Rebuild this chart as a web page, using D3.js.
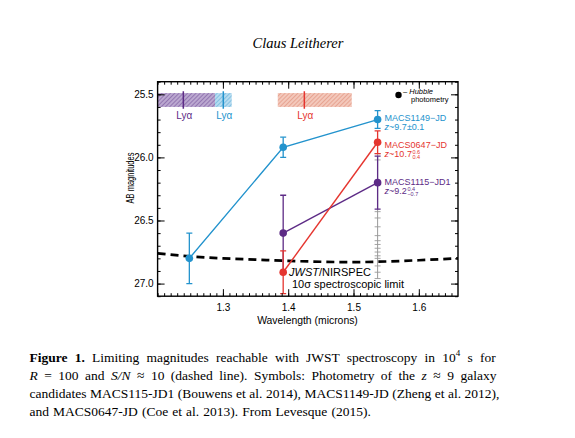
<!DOCTYPE html>
<html>
<head>
<meta charset="utf-8">
<script src="https://cdn.jsdelivr.net/npm/d3@7"></script>
<style>
body { margin: 0; background: #fff; }
svg { display: block; }
</style>
</head>
<body>
<svg width="575" height="438"></svg>
<script>
// Photometry of the three z~9-11 candidates (wavelength in microns, AB mag)
const jd1149Wave = [1.2486, 1.3923, 1.5369];
const jd1149Mag = [26.80, 25.92, 25.70];
const jd1149Err = [0.20, 0.08, 0.07];

const jd0647Wave = [1.3923, 1.5369];
const jd0647Mag = [26.91, 25.88];
const jd0647Err = [0.17, 0.09];

const jd1115Wave = [1.3923, 1.5369];
const jd1115Mag = [26.60, 26.20];
const jd1115Err = [0.30, 0.21];

// Grey error bar caps stacked at 1.537 micron
const greyWave = 1.5369;
const greyCaps = [25.97, 26.02, 26.43, 26.48, 26.55, 26.62, 26.66, 26.69, 26.72, 26.75, 26.78, 26.80, 26.86, 26.91, 26.96];

// JWST/NIRSPEC 10 sigma limit (dashed line)
const limitWave = [1.20, 1.25, 1.30, 1.35, 1.40, 1.45, 1.50, 1.55, 1.60, 1.66];
const limitMag = [26.76, 26.785, 26.80, 26.81, 26.82, 26.827, 26.83, 26.825, 26.815, 26.80];

// Lyman alpha positions and redshift ranges (purple, blue, red)
const lyaWave = [1.2394, 1.3006, 1.4247];
const lyaLow = [1.19, 1.2872, 1.384];
const lyaHigh = [1.2879, 1.3135, 1.4973];

const xTicks = [1.3, 1.4, 1.5, 1.6];
const yTicks = [25.5, 26.0, 26.5, 27.0];

const blue = "#2393cd";
const red = "#e5352f";
const purple = "#5d2b86";

const svg = d3.select("svg");
const sans = "Liberation Sans, Arial, sans-serif";
const serif = "Liberation Serif, serif";

// Frame of the plot
const pLeft = 157.6, pRight = 458, pTop = 81.7, pBottom = 296.2;

const xScale = d3.scaleLinear().domain([1.2, 1.66]).range([pLeft, pRight]);
const yScale = d3.scaleLinear().domain([25.4, 27.1]).range([pTop, pBottom]);

// Hatch patterns for the redshift bands
const defs = svg.append("defs");
function hatch(id, bg, fg) {
    const p = defs.append("pattern")
        .attr("id", id)
        .attr("patternUnits", "userSpaceOnUse")
        .attr("width", 3).attr("height", 3)
        .attr("patternTransform", "rotate(45)");
    p.append("rect").attr("width", 3).attr("height", 3).attr("fill", bg);
    p.append("line").attr("x1", 0).attr("y1", 0).attr("x2", 0).attr("y2", 3)
        .attr("stroke", fg).attr("stroke-width", 1.4);
}
hatch("hPurple", "#bba8d0", "#8060a4");
hatch("hBlue", "#b6dcf0", "#6db4dc");
hatch("hRed", "#f3c8bb", "#e29481");

defs.append("clipPath").attr("id", "plotClip")
    .append("rect").attr("x", pLeft).attr("y", pTop)
    .attr("width", pRight - pLeft).attr("height", pBottom - pTop);

const plot = svg.append("g").attr("clip-path", "url(#plotClip)");

const bandFills = ["url(#hPurple)", "url(#hBlue)", "url(#hRed)"];
const bandColors = [purple, blue, red];
const bandOrder = [1, 0, 2];

bandOrder.forEach(function(i) {
    plot.append("rect")
        .attr("x", xScale(lyaLow[i]))
        .attr("y", yScale(25.49))
        .attr("width", xScale(lyaHigh[i]) - xScale(lyaLow[i]))
        .attr("height", yScale(25.6) - yScale(25.49))
        .attr("fill", bandFills[i]);
});
lyaWave.forEach(function(w, i) {
    plot.append("line")
        .attr("x1", xScale(w)).attr("x2", xScale(w))
        .attr("y1", yScale(25.475)).attr("y2", yScale(25.615))
        .attr("stroke", bandColors[i]).attr("stroke-width", 1.5);
    svg.append("text")
        .attr("x", xScale(w) + 1)
        .attr("y", 118.5)
        .attr("text-anchor", "middle")
        .attr("font-family", sans)
        .attr("font-size", 10)
        .attr("fill", bandColors[i])
        .text("Lyα");
});

// Dashed limit line
plot.append("path")
    .datum(limitWave.map((w, i) => [w, limitMag[i]]))
    .attr("fill", "none")
    .attr("stroke", "#000")
    .attr("stroke-width", 2.7)
    .attr("stroke-dasharray", "8,5")
    .attr("d", d3.line().curve(d3.curveMonotoneX).x(d => xScale(d[0])).y(d => yScale(d[1])));

// Grey error bars
plot.append("line")
    .attr("x1", xScale(greyWave)).attr("x2", xScale(greyWave))
    .attr("y1", yScale(d3.min(greyCaps))).attr("y2", yScale(d3.max(greyCaps)))
    .attr("stroke", "#999").attr("stroke-width", 1);
plot.selectAll(".greycap")
    .data(greyCaps)
    .enter()
    .append("line")
    .attr("x1", xScale(greyWave) - 3).attr("x2", xScale(greyWave) + 3)
    .attr("y1", d => yScale(d)).attr("y2", d => yScale(d))
    .attr("stroke", "#9a9a9a").attr("stroke-width", 0.9);

// Draw one galaxy: error bars, connecting line, points
function drawSeries(wave, mag, err, color) {
    const pts = wave.map((w, i) => ({ w: w, m: mag[i], e: err[i] }));
    const g = plot.append("g");
    pts.forEach(function(d) {
        g.append("line")
            .attr("x1", xScale(d.w)).attr("x2", xScale(d.w))
            .attr("y1", yScale(d.m - d.e)).attr("y2", yScale(d.m + d.e))
            .attr("stroke", color).attr("stroke-width", 1.3);
        [d.m - d.e, d.m + d.e].forEach(function(v) {
            g.append("line")
                .attr("x1", xScale(d.w) - 3).attr("x2", xScale(d.w) + 3)
                .attr("y1", yScale(v)).attr("y2", yScale(v))
                .attr("stroke", color).attr("stroke-width", 1.3);
        });
    });
    g.append("path")
        .datum(pts)
        .attr("fill", "none")
        .attr("stroke", color)
        .attr("stroke-width", 1.4)
        .attr("d", d3.line().x(d => xScale(d.w)).y(d => yScale(d.m)));
    g.selectAll("circle")
        .data(pts)
        .enter()
        .append("circle")
        .attr("cx", d => xScale(d.w))
        .attr("cy", d => yScale(d.m))
        .attr("r", 3.8)
        .attr("fill", color);
}
drawSeries(jd1115Wave, jd1115Mag, jd1115Err, purple);
drawSeries(jd1149Wave, jd1149Mag, jd1149Err, blue);
drawSeries(jd0647Wave, jd0647Mag, jd0647Err, red);

// Axes with inward ticks on all four sides
function styleAxis(g) {
    g.select(".domain").remove();
    g.selectAll("line").attr("stroke", "#000").attr("stroke-width", 1);
    g.selectAll("text")
        .attr("font-family", sans)
        .attr("font-size", 10)
        .attr("fill", "#000");
}
const xMinor = d3.range(120, 166).map(v => v / 100);
const yMinor = d3.range(254, 272).map(v => v / 10);

svg.append("g").attr("transform", `translate(0,${pBottom})`)
    .call(d3.axisBottom(xScale).tickValues(xMinor).tickSize(-3).tickFormat(""))
    .call(styleAxis);
svg.append("g").attr("transform", `translate(0,${pBottom})`)
    .call(d3.axisBottom(xScale).tickValues(xTicks).tickSize(-7).tickPadding(8).tickFormat(d3.format(".1f")))
    .call(styleAxis);
svg.append("g").attr("transform", `translate(0,${pTop})`)
    .call(d3.axisTop(xScale).tickValues(xMinor).tickSize(-3).tickFormat(""))
    .call(styleAxis);
svg.append("g").attr("transform", `translate(0,${pTop})`)
    .call(d3.axisTop(xScale).tickValues(xTicks).tickSize(-7).tickFormat(""))
    .call(styleAxis);

svg.append("g").attr("transform", `translate(${pLeft},0)`)
    .call(d3.axisLeft(yScale).tickValues(yMinor).tickSize(-3).tickFormat(""))
    .call(styleAxis);
svg.append("g").attr("transform", `translate(${pLeft},0)`)
    .call(d3.axisLeft(yScale).tickValues(yTicks).tickSize(-7).tickPadding(4).tickFormat(d3.format(".1f")))
    .call(styleAxis);
svg.append("g").attr("transform", `translate(${pRight},0)`)
    .call(d3.axisRight(yScale).tickValues(yMinor).tickSize(-3).tickFormat(""))
    .call(styleAxis);
svg.append("g").attr("transform", `translate(${pRight},0)`)
    .call(d3.axisRight(yScale).tickValues(yTicks).tickSize(-7).tickFormat(""))
    .call(styleAxis);

// Frame
svg.append("rect")
    .attr("x", pLeft).attr("y", pTop)
    .attr("width", pRight - pLeft).attr("height", pBottom - pTop)
    .attr("fill", "none").attr("stroke", "#000").attr("stroke-width", 1.4);

// Axis labels
svg.append("text")
    .attr("x", 307.5)
    .attr("y", 324)
    .attr("text-anchor", "middle")
    .attr("font-family", sans)
    .attr("font-size", 10.4)
    .text("Wavelength (microns)");

svg.append("text")
    .attr("transform", "translate(133.5,178) rotate(-90) scale(0.75,1)")
    .attr("text-anchor", "middle")
    .attr("font-family", sans)
    .attr("font-size", 10)
    .text("AB magnitudes");

// Galaxy labels
function galaxyLabel(name, zText, sup, sub, yName, color) {
    const x0 = xScale(1.5369) + 7;
    svg.append("text")
        .attr("x", x0).attr("y", yName)
        .attr("font-family", sans).attr("font-size", 9)
        .attr("fill", color).text(name);
    const t = svg.append("text")
        .attr("x", x0).attr("y", yName + 9.5)
        .attr("font-family", sans).attr("font-size", 9)
        .attr("fill", color);
    t.append("tspan").attr("font-style", "italic").text("z");
    t.append("tspan").text(zText);
    if (sup !== null) {
        const w = t.node().getComputedTextLength();
        svg.append("text")
            .attr("x", x0 + w + 0.5).attr("y", yName + 6)
            .attr("font-family", sans).attr("font-size", 5.5)
            .attr("fill", color).text(sup);
        svg.append("text")
            .attr("x", x0 + w + 0.5).attr("y", yName + 11.5)
            .attr("font-family", sans).attr("font-size", 5.5)
            .attr("fill", color).text(sub);
    }
}
galaxyLabel("MACS1149\u2212JD", "~9.7\u00b10.1", null, null, 120.5, blue);
galaxyLabel("MACS0647\u2212JD", "~10.7", "0.6", "0.4", 147.5, red);
galaxyLabel("MACS1115\u2212JD1", "~9.2", "0.4", "\u22120.7", 184.5, purple);

// Hubble photometry legend
svg.append("circle").attr("cx", 398.5).attr("cy", 95).attr("r", 3.2).attr("fill", "#000");
const hub = svg.append("text")
    .attr("x", 403).attr("y", 93.5)
    .attr("font-family", sans).attr("font-size", 7.5);
hub.append("tspan").text("\u2013 ");
hub.append("tspan").attr("font-style", "italic").text("Hubble");
svg.append("text")
    .attr("x", 411).attr("y", 101.5)
    .attr("font-family", sans).attr("font-size", 7.5)
    .text("photometry");

// NIRSPEC limit annotation
const jw = svg.append("text")
    .attr("x", 289).attr("y", 276)
    .attr("font-family", sans).attr("font-size", 11);
jw.append("tspan").attr("font-style", "italic").text("JWST");
jw.append("tspan").text("/NIRSPEC");
svg.append("text")
    .attr("x", 292).attr("y", 288)
    .attr("font-family", sans).attr("font-size", 11)
    .text("10\u03c3 spectroscopic limit");

// Running head
svg.append("text")
    .attr("x", 298).attr("y", 48)
    .attr("text-anchor", "middle")
    .attr("font-family", serif)
    .attr("font-style", "italic")
    .attr("font-size", 14.5)
    .text("Claus Leitherer");

// Caption, justified by stretching the word spacing
const capX = 29.5;
const capSize = 13.5;
function justify(t, width) {
    const natural = t.node().getComputedTextLength();
    const spaces = (t.text().match(/ /g) || []).length;
    t.attr("word-spacing", (width - natural) / spaces);
}
function capLine(y) {
    return svg.append("text").attr("x", capX).attr("y", y)
        .attr("font-family", serif).attr("font-size", capSize);
}

const cap1 = capLine(361.5);
cap1.append("tspan").attr("font-weight", "bold").text("Figure 1.");
cap1.append("tspan").text("  Limiting magnitudes reachable with JWST spectroscopy in 10");
cap1.append("tspan").attr("font-size", 9).attr("dy", -6).text("4");
cap1.append("tspan").attr("dy", 6).text(" s for");
justify(cap1, 470);

const cap2 = capLine(380);
cap2.append("tspan").attr("font-style", "italic").text("R");
cap2.append("tspan").text(" = 100 and ");
cap2.append("tspan").attr("font-style", "italic").text("S/N");
cap2.append("tspan").text(" \u2248 10 (dashed line).  Symbols: Photometry of the ");
cap2.append("tspan").attr("font-style", "italic").text("z");
cap2.append("tspan").text(" \u2248 9 galaxy");
justify(cap2, 470);

const cap3 = capLine(398)
    .text("candidates MACS115-JD1 (Bouwens et al. 2014), MACS1149-JD (Zheng et al. 2012),");
justify(cap3, 470);

const cap4 = capLine(416)
    .text("and MACS0647-JD (Coe et al. 2013).  From Levesque (2015).");
justify(cap4, 342);
</script>
</body>
</html>
